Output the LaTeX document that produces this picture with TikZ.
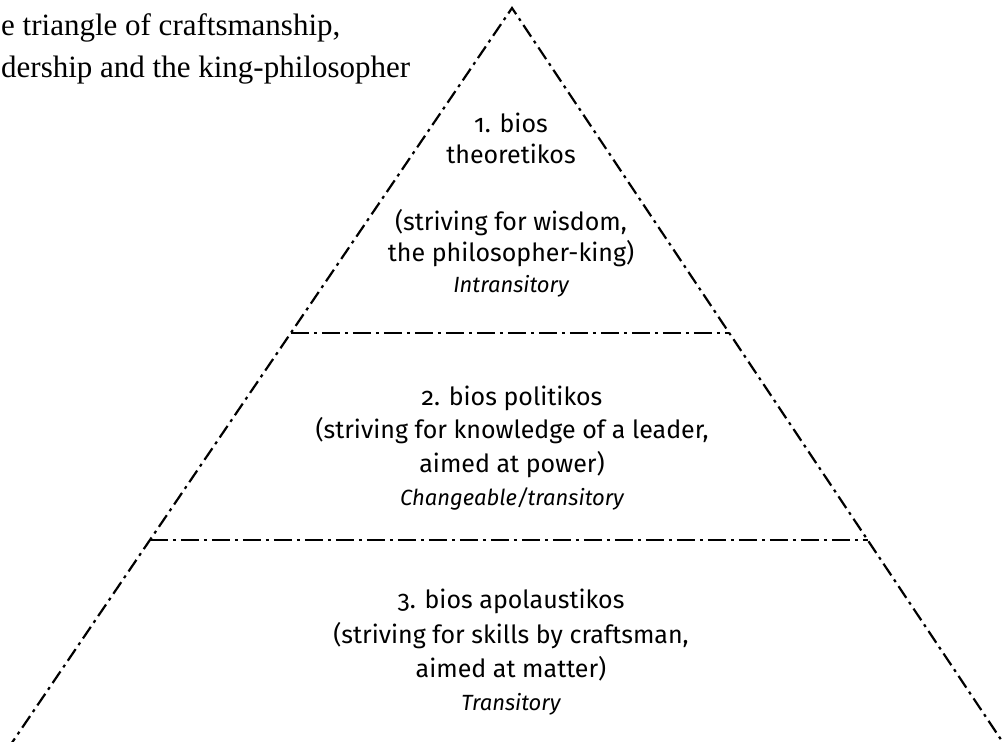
\documentclass[tikz,border=0pt]{standalone}
\usepackage{fontspec}
\setmainfont{Liberation Serif}
\newfontfamily\bodyfont[Numbers=OldStyle]{Fira Sans}
\usetikzlibrary{calc}
\begin{document}
\begin{tikzpicture}[x=1pt,y=-1pt,
  slope/.style={line width=2.2pt, dash pattern=on 14pt off 5pt on 3pt off 5pt},
  divider/.style={line width=2.2pt, dash pattern=on 18pt off 5pt on 3pt off 5pt},
  body/.style={font=\bodyfont\fontsize{25}{30}\selectfont, anchor=base, inner sep=0pt},
  bodyit/.style={font=\bodyfont\itshape\fontsize{22}{26}\selectfont, anchor=base, inner sep=0pt},
  heading/.style={font=\fontsize{31}{40}\selectfont, anchor=base west, inner sep=0pt}]
  \useasboundingbox (0,0) rectangle (1005,742);

  % pyramid outline
  \coordinate (apex) at (512,8);
  \coordinate (bl) at (7,750);
  \coordinate (br) at (1008,750);
  \draw[slope] (bl) -- (apex) -- (br);

  % level boundaries
  \coordinate (l1) at ($(apex)!0.438!(bl)$);
  \coordinate (r1) at ($(apex)!0.438!(br)$);
  \coordinate (l2) at ($(apex)!0.717!(bl)$);
  \coordinate (r2) at ($(apex)!0.717!(br)$);
  \draw[divider] (l1) -- (r1);
  \draw[divider] (l2) -- (r2);

  % heading
  \node[heading] (h1) at (1,35) {e triangle of craftsmanship,};
  \node[heading] (h2) at (1,77) {dership and the king-philosopher};

  % level 1
  \node[body] (a1) at (511,132) {1. bios};
  \node[body] (a2) at (511,163) {theoretikos};
  \node[body] (a3) at (511,230) {(striving for wisdom,};
  \node[body] (a4) at (511,261) {the philosopher-king)};
  \node[bodyit] (a5) at (511,292) {Intransitory};

  % level 2
  \node[body] (b1) at (512,405) {2. bios politikos};
  \node[body] (b2) at (512,438) {(striving for knowledge of a leader,};
  \node[body] (b3) at (512,472) {aimed at power)};
  \node[bodyit] (b4) at (512,505) {Changeable/transitory};

  % level 3
  \node[body] (c1) at (511,608) {3. bios apolaustikos};
  \node[body] (c2) at (511,643) {(striving for skills by craftsman,};
  \node[body] (c3) at (511,677) {aimed at matter)};
  \node[bodyit] (c4) at (511,710) {Transitory};
\end{tikzpicture}
\end{document}
